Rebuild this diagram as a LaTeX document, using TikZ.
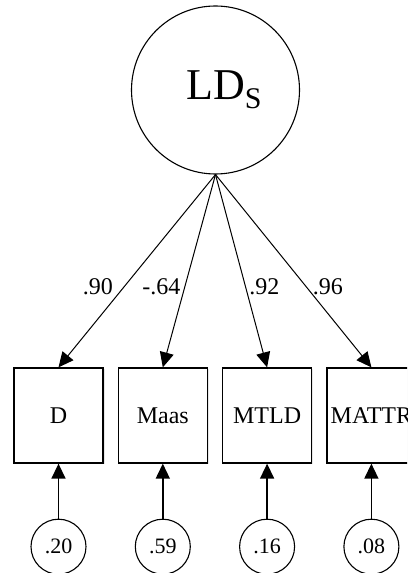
\documentclass[tikz,border=0pt]{standalone}
\usepackage{fontspec}
\setmainfont{Liberation Serif}
\usetikzlibrary{positioning}
\usetikzlibrary{arrows.meta}
\usetikzlibrary{shadows}

\begin{document}
\begin{tikzpicture}[x=1pt, y=1pt, node distance=14pt, auto,
	ind/.style={draw, rectangle, line width=1.3pt, minimum width=89pt,
		minimum height=95pt, inner sep=0pt, fill=white,
		drop shadow={shadow xshift=1.5pt, shadow yshift=-1.5pt, opacity=0.2},
		font=\fontsize{24}{26}\selectfont},
	err/.style={draw, circle, line width=1.1pt, minimum size=55pt,
		inner sep=0pt, font=\fontsize{22}{24}\selectfont},
	load/.style={-{Triangle[length=15pt, width=14pt]}, line width=1pt},
	res/.style={-{Triangle[length=15pt, width=14pt]}, line width=1.5pt},
	lab/.style={inner sep=0pt, font=\fontsize{24}{26}\selectfont}]
	\useasboundingbox (0,0) rectangle (407,573); \clip (0,0) rectangle (407,573);
	% latent factor
	\node (lds) [draw, circle, line width=1.1pt, minimum size=168pt, inner
		sep=0pt, font=\fontsize{44}{46}\selectfont] at (215.5,483)
		{LD\rlap{\raisebox{-9pt}{\fontsize{30}{32}\selectfont S}}};
	% indicators
	\node (d) [ind] at (58.5,157.5) {D}; \node (maas) [ind, right=of d]
		{Maas}; \node (mtld) [ind, right=of maas] {MTLD}; \node (mattr) [ind,
		right=of mtld] {MATTR};
	% residuals
	\node (ed) [err, below=55pt of d] {.20}; \node (emaas) [err, below=55pt
		of maas] {.59}; \node (emtld) [err, below=55pt of mtld] {.16}; \node
		(emattr) [err, below=55pt of mattr] {.08};
	\draw[load] (lds.south) -- node[lab, pos=0.58, left=11pt] {.90} (d.north);
	\draw[load] (lds.south) -- node[lab, pos=0.58, left=4pt] {-.64} (maas.north);
	\draw[load] (lds.south) -- node[lab, pos=0.58, right=3.5pt] {.92} (mtld.north);
	\draw[load] (lds.south) -- node[lab, pos=0.58, right=6.5pt] {.96} (mattr.north);
	\foreach \i in {d, maas, mtld, mattr} {\draw[res] (e\i) -- (\i);}
\end{tikzpicture}
\end{document}
